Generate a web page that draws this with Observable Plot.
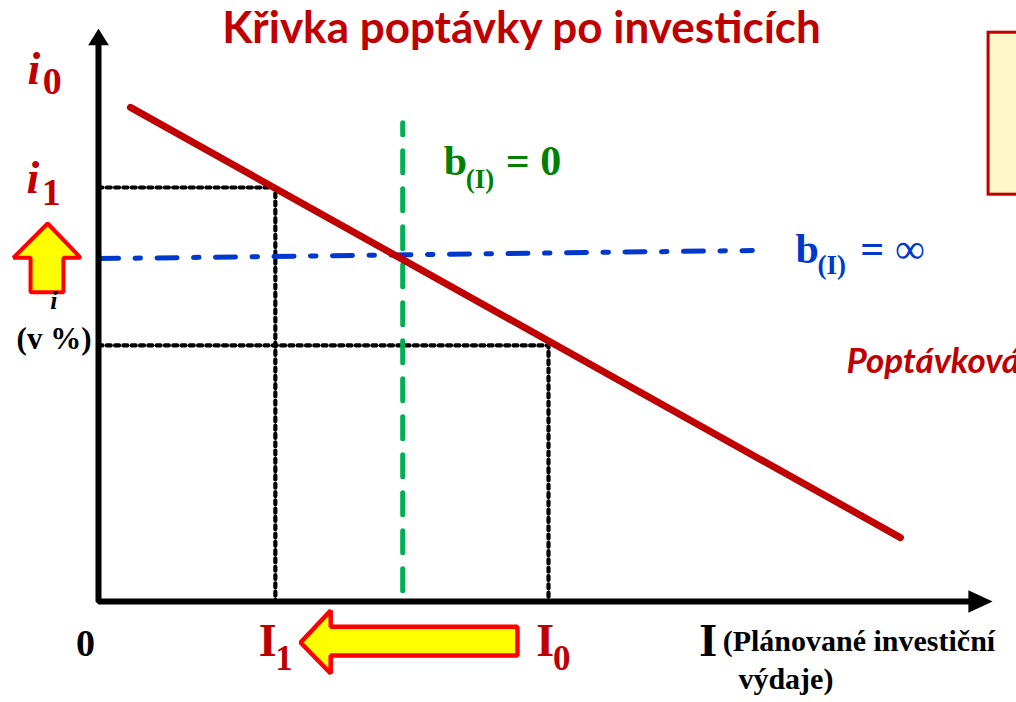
<!DOCTYPE html>
<html><head><meta charset="utf-8">
<script src="https://cdn.jsdelivr.net/npm/d3@7"></script>
<script src="https://cdn.jsdelivr.net/npm/@observablehq/plot@0.6"></script>
<style>html,body{margin:0;padding:0;background:#fff;overflow:hidden;} svg{overflow:hidden;display:block}</style>
</head><body><div id="chart"></div>
<script>
// ---- data (abstract units: I = planned investment, i = interest rate) ----
const demandCurve = [{I: 0.71, i: 10.98}, {I: 17.82, i: 1.42}];
const investLevels = [3.93, 10.0];      // I1, I0
const rateLevels = [9.2, 5.69];         // i1, i0
const bZeroLine = [{I: 6.76, i: 0.24}, {I: 6.76, i: 10.64}];
const bInfLine = [{I: 0, i: 7.62}, {I: 14.53, i: 7.8}];
const axisPath = [{I: 0, i: 12.4}, {I: 0, i: 0}, {I: 19.4, i: 0}];
const xHead = [{I: 19.87, i: 0}, {I: 19.33, i: 0.25}, {I: 19.33, i: -0.25}];
const yHead = [{I: 0, i: 12.73}, {I: -0.23, i: 12.36}, {I: 0.23, i: 12.36}];
const upArrow = [{I:-1.13,i:8.4},{I:-0.4,i:7.64},{I:-0.78,i:7.64},{I:-0.78,i:6.87},{I:-1.51,i:6.87},{I:-1.51,i:7.64},{I:-1.89,i:7.64}];
const leftArrow = [{I:4.49,i:-0.91},{I:5.16,i:-0.2},{I:5.16,i:-0.56},{I:9.31,i:-0.56},{I:9.31,i:-1.2},{I:5.16,i:-1.2},{I:5.16,i:-1.6}];
const noteBox = [{x1: 19.78, x2: 21.5, y1: 9.04, y2: 12.64}];
const titleText = "Křivka poptávky po investicích";
const curveLabel = "Poptávková křivka";

const [I1, I0] = investLevels;
const [r1, r0] = rateLevels;

const RED = "#c00000", GREEN = "#00b050", GTEXT = "#008000", BLUE = "#0038cc";
const serif = "'Liberation Serif', 'Times New Roman', serif";
const sans = "Lato, 'Open Sans', sans-serif";

function txt(t, I, i, o) {
  return Plot.text([{I, i, t}], {x: "I", y: "i", text: "t", lineAnchor: "bottom", textAnchor: "start", fontFamily: serif, fontWeight: "bold", ...o});
}

const chart = Plot.plot({
  width: 1016, height: 702, margin: 0,
  x: {domain: [0, 20], range: [98, 998], axis: null},
  y: {domain: [0, 14], range: [601, -29], axis: null},
  marks: [
    Plot.rect(noteBox, {x1: "x1", x2: "x2", y1: "y1", y2: "y2", fill: "#fff6c8", stroke: RED, strokeWidth: 3}),
    Plot.line([{I: 0, i: r1}, {I: I1, i: r1}, {I: I1, i: 0}], {x: "I", y: "i", stroke: "black", strokeWidth: 4.2, strokeDasharray: "4,4.3"}),
    Plot.line([{I: 0, i: r0}, {I: I0, i: r0}, {I: I0, i: 0}], {x: "I", y: "i", stroke: "black", strokeWidth: 4.2, strokeDasharray: "4,4.3"}),
    Plot.line(bZeroLine, {x: "I", y: "i", stroke: GREEN, strokeWidth: 5, strokeDasharray: "22,16"}),
    Plot.line(bInfLine, {x: "I", y: "i", stroke: BLUE, strokeWidth: 5, strokeDasharray: "20,16.5,5.5,16.5"}),
    Plot.line(demandCurve, {x: "I", y: "i", stroke: RED, strokeWidth: 7}),
    Plot.line(axisPath, {x: "I", y: "i", stroke: "black", strokeWidth: 6, strokeLinejoin: "miter", strokeLinecap: "square"}),
    Plot.line(xHead, {x: "I", y: "i", fill: "black", stroke: "none", curve: "linear-closed"}),
    Plot.line(yHead, {x: "I", y: "i", fill: "black", stroke: "none", curve: "linear-closed"}),
    Plot.line(upArrow, {x: "I", y: "i", fill: "#ffff00", stroke: "#ff0000", strokeWidth: 4, strokeLinejoin: "miter", curve: "linear-closed"}),
    Plot.line(leftArrow, {x: "I", y: "i", fill: "#ffff00", stroke: "#ff0000", strokeWidth: 4.5, strokeLinejoin: "miter", curve: "linear-closed"}),
    // title & curve label
    txt(titleText, 9.4, 12.42, {textAnchor: "middle", fontFamily: sans, fontSize: 44, fill: RED}),
    txt(curveLabel, 16.62, 5.07, {fontFamily: sans, fontSize: 35, fontStyle: "italic", fill: RED}),
    // y labels
    txt("i", -1.58, 11.51, {fontSize: 46, fontStyle: "italic", fill: RED}),
    txt("0", -1.24, 11.27, {fontSize: 38, fill: RED}),
    txt("i", -1.6, 9.07, {fontSize: 46, fontStyle: "italic", fill: RED}),
    txt("1", -1.26, 8.82, {fontSize: 38, fill: RED}),
    txt("i", -1.07, 6.51, {fontSize: 26, fontStyle: "italic", fill: "black"}),
    txt("(v %)", -1.82, 5.62, {fontSize: 31, fill: "black"}),
    // x labels
    txt("0", -0.5, -1.2, {fontSize: 38, fill: "black"}),
    txt("I", 3.56, -1.2, {fontSize: 46, fill: RED}),
    txt("1", 3.93, -1.53, {fontSize: 35, fill: RED}),
    txt("I", 9.73, -1.2, {fontSize: 46, fill: RED}),
    txt("0", 10.1, -1.53, {fontSize: 35, fill: RED}),
    txt("I", 13.35, -1.2, {fontSize: 46, fill: "black"}),
    txt("(Plánované investiční", 13.87, -1.1, {fontSize: 30, fill: "black"}),
    txt("výdaje)", 14.22, -1.95, {fontSize: 30, fill: "black"}),
    // elasticity labels
    txt("b", 7.67, 9.47, {fontSize: 42, fill: GTEXT}),
    txt("(I)", 8.16, 9.2, {fontSize: 27, fill: GTEXT}),
    txt("= 0", 9.05, 9.47, {fontSize: 42, fill: GTEXT}),
    txt("b", 15.49, 7.53, {fontSize: 42, fill: BLUE}),
    txt("(I)", 15.98, 7.27, {fontSize: 27, fill: BLUE}),
    txt("=", 16.93, 7.53, {fontSize: 42, fill: BLUE}),
    txt("∞", 17.7, 7.53, {fontSize: 42, fontWeight: "normal", fill: BLUE})
  ]
});
document.getElementById("chart").appendChild(chart);
</script></body></html>
